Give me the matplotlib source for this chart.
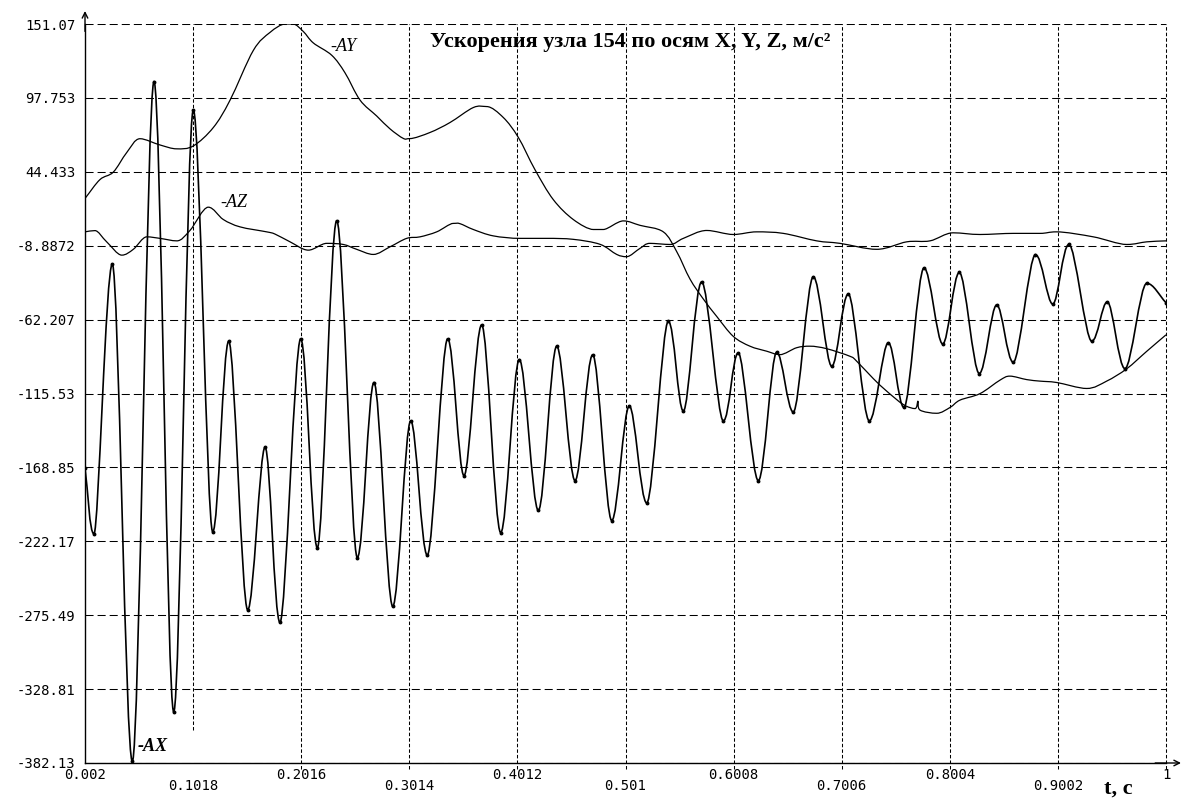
import matplotlib
matplotlib.use("Agg")
import matplotlib.pyplot as plt
import matplotlib.transforms as mtrans
from matplotlib.path import Path
from matplotlib.patches import PathPatch

plt.rcParams['lines.scale_dashes'] = False

# axis ticks
y_ticks = [151.07, 97.753, 44.433, -8.8872, -62.207, -115.53, -168.85, -222.17, -275.49, -328.81, -382.13]
y_labels = ["151.07", "97.753", "44.433", "-8.8872", "-62.207", "-115.53", "-168.85", "-222.17", "-275.49", "-328.81", "-382.13"]
x_ticks = [0.002, 0.1018, 0.2016, 0.3014, 0.4012, 0.501, 0.6008, 0.7006, 0.8004, 0.9002, 1.0]
x_labels = ["0.002", "0.1018", "0.2016", "0.3014", "0.4012", "0.501", "0.6008", "0.7006", "0.8004", "0.9002", "1"]

# AX (read from peaks / troughs)
ax_t = [0.002, 0.0103, 0.0272, 0.0457, 0.0657, 0.0839, 0.102, 0.1199, 0.1347, 0.1522,
        0.1682, 0.1820, 0.2011, 0.2165, 0.2344, 0.2534, 0.2688, 0.2861, 0.3027, 0.3180,
        0.3368, 0.3519, 0.3682, 0.3858, 0.4030, 0.4205, 0.4375, 0.4544, 0.4707, 0.4883,
        0.5045, 0.5206, 0.5405, 0.5544, 0.5713, 0.5913, 0.6051, 0.6236, 0.6406, 0.6559,
        0.6744, 0.6914, 0.7067, 0.7261, 0.7436, 0.7581, 0.7766, 0.7938, 0.8092, 0.8276,
        0.8437, 0.8590, 0.8795, 0.8954, 0.9104, 0.9314, 0.9458, 0.9621, 0.9822, 1.0]
ax_v = [-169.3, -216.8, -22.2, -381.0, 109.5, -345.3, 89.0, -215.3, -77.8, -271.7,
        -154.3, -280.7, -76.1, -226.8, 9.1, -233.9, -107.6, -269.1, -135.3, -232.2,
        -76.1, -174.8, -66.0, -215.9, -91.1, -199.9, -81.4, -178.4, -87.6, -207.2,
        -124.5, -194.5, -63.4, -128.2, -35.0, -135.3, -86.2, -178.4, -85.7, -128.9,
        -31.3, -95.9, -43.7, -135.3, -78.9, -125.6, -24.9, -79.8, -28.2, -101.1,
        -51.6, -93.0, -15.3, -51.0, -7.9, -77.8, -49.4, -97.6, -36.0, -50.0]

# AY
ay_t = [0.002, 0.0158, 0.0281, 0.0405, 0.0528, 0.0712, 0.0867, 0.102, 0.1205, 0.1359,
        0.1574, 0.1728, 0.1866, 0.1943, 0.2035, 0.2128, 0.2298, 0.2420, 0.2559, 0.2713,
        0.2836, 0.2959, 0.3020, 0.3205, 0.3390, 0.3605, 0.3729, 0.3882, 0.4020, 0.4174,
        0.4343, 0.4528, 0.4713, 0.4805, 0.4990, 0.5144, 0.5359, 0.5483, 0.5605, 0.5728,
        0.5852, 0.6005, 0.6159, 0.6313, 0.6436, 0.6590, 0.6713, 0.6867, 0.7083, 0.7144,
        0.7298, 0.7421, 0.7575, 0.7683, 0.7710, 0.7729, 0.7883, 0.8006, 0.8098, 0.8283,
        0.8467, 0.8560, 0.8714, 0.8837, 0.8991, 0.9268, 0.9452, 0.9637, 0.9822, 1.0]
ay_v = [25.2, 38.8, 44.2, 58.3, 68.3, 63.8, 61.0, 63.1, 76.4, 96.1,
        132.0, 145.0, 151.07, 151.07, 145.7, 137.4, 128.5, 115.9, 96.2, 84.7,
        75.4, 68.5, 68.4, 72.8, 80.0, 90.8, 91.5, 83.6, 69.3, 46.0,
        24.4, 10.0, 2.8, 2.8, 9.0, 5.8, 1.1, -13.2, -32.9, -47.3,
        -59.9, -74.3, -81.4, -85.0, -87.5, -82.5, -81.4, -83.2, -88.7, -92.2,
        -104.8, -113.8, -123.5, -126.4, -121.0, -127.5, -129.8, -125.6, -120.3, -115.6,
        -105.9, -103.0, -105.5, -106.6, -107.6, -111.9, -106.6, -97.7, -85.1, -73.2]

# AZ
az_t = [0.002, 0.0112, 0.0220, 0.0359, 0.0466, 0.0590, 0.0712, 0.0867, 0.0989, 0.1158,
        0.1297, 0.1451, 0.1697, 0.1774, 0.1913, 0.2082, 0.2251, 0.2405, 0.2528, 0.2682,
        0.2836, 0.2990, 0.3113, 0.3267, 0.3420, 0.3482, 0.3605, 0.3789, 0.4036, 0.4282,
        0.4528, 0.4775, 0.4929, 0.5021, 0.5144, 0.5236, 0.5421, 0.5544, 0.5760, 0.6005,
        0.6221, 0.6467, 0.6775, 0.6990, 0.7329, 0.7606, 0.7821, 0.8036, 0.8283, 0.8590,
        0.8837, 0.8991, 0.9329, 0.9637, 0.9822, 1.0]
az_v = [1.1, 2.0, -6.1, -15.7, -11.5, -2.5, -3.6, -5.4, 2.1, 18.9,
        10.0, 4.7, 1.1, -0.5, -6.1, -12.1, -7.2, -8.0, -11.5, -15.2,
        -9.7, -3.6, -2.5, 1.1, 7.2, 7.0, 2.8, -1.8, -3.6, -3.6,
        -4.3, -7.9, -15.2, -16.8, -10.8, -7.2, -8.0, -3.6, 2.1, -0.8,
        1.1, 0.0, -5.4, -7.2, -11.5, -6.1, -5.4, 0.4, -0.8, 0.0,
        0.0, 1.1, -2.5, -8.0, -6.1, -5.4]


def smooth_path(xs, ys):
    # cubic bezier path through the read points, flat tangent at local extremes
    n = len(xs)
    mx, my = [], []
    for i in range(n):
        a = max(i - 1, 0)
        b = min(i + 1, n - 1)
        dx = (xs[b] - xs[a]) / (b - a)
        dy = (ys[b] - ys[a]) / (b - a)
        if 0 < i < n - 1 and (ys[i] - ys[i - 1]) * (ys[i + 1] - ys[i]) <= 0:
            dy = 0.0
        mx.append(dx)
        my.append(dy)
    verts = [(xs[0], ys[0])]
    codes = [Path.MOVETO]
    for i in range(n - 1):
        verts += [(xs[i] + mx[i] / 3, ys[i] + my[i] / 3),
                  (xs[i + 1] - mx[i + 1] / 3, ys[i + 1] - my[i + 1] / 3),
                  (xs[i + 1], ys[i + 1])]
        codes += [Path.CURVE4] * 3
    return Path(verts, codes)


fig = plt.figure(figsize=(11.86, 8.0), dpi=100)
ax = fig.add_axes([85 / 1186, 1 - 763 / 800, 1081 / 1186, 739 / 800])

ax.set_xlim(0.002, 1.0)
ax.set_ylim(-382.13, 151.07)

# grid
for y in y_ticks:
    ax.axhline(y, color="black", lw=0.75, ls=(0, (5.8, 2.9)), zorder=1)
for i, x in enumerate(x_ticks):
    if i == 0:
        continue
    ymin = 0.045 if i == 1 else -0.008
    ax.axvline(x, ymin=ymin, ymax=1.0, color="black", lw=0.75, ls=(0, (2.5, 1.5)),
               zorder=1, clip_on=False)

for xs, ys, lw in [(ay_t, ay_v, 0.9), (az_t, az_v, 0.9), (ax_t, ax_v, 1.2)]:
    ax.add_patch(PathPatch(smooth_path(xs, ys), fill=False, edgecolor="black",
                           lw=lw, zorder=3))
ax.plot(ax_t, ax_v, ls="none", color="black", marker="o", ms=1.8, zorder=4)

ax.spines["top"].set_visible(False)
ax.spines["right"].set_visible(False)
ax.spines["left"].set_linewidth(1.0)
ax.spines["bottom"].set_linewidth(1.0)

ax.set_yticks(y_ticks)
ax.set_yticklabels(y_labels, family="DejaVu Sans Mono", fontsize=10)
ax.tick_params(axis="y", length=0, pad=7)
ax.set_xticks([])

# staggered x labels
trans = ax.get_xaxis_transform()
for i, (x, lab) in enumerate(zip(x_ticks, x_labels)):
    dy = -12 if i % 2 == 0 else -23
    t = mtrans.offset_copy(trans, fig=fig, x=0, y=dy, units="dots")
    ax.text(x, 0, lab, transform=t, ha="center", va="center",
            family="DejaVu Sans Mono", fontsize=10)

# axis arrows
ax.annotate("", xy=(0, 1 + 13 / 739), xytext=(0, 0.99), xycoords="axes fraction",
            arrowprops=dict(arrowstyle="->", lw=1.0, color="black", shrinkA=0, shrinkB=0))
ax.annotate("", xy=(1 + 15 / 1081, 0), xytext=(0.99, 0), xycoords="axes fraction",
            arrowprops=dict(arrowstyle="->", lw=1.0, color="black", shrinkA=0, shrinkB=0))

# curve labels
ax.text(0.2282, 134.5, "-AY", family="Liberation Serif", style="italic",
        fontsize=13, ha="left", va="center")
ax.text(0.1266, 22.6, "-AZ", family="Liberation Serif", style="italic",
        fontsize=13, ha="left", va="center")
ax.text(0.0509, -369.9, "-AX", family="Liberation Serif", style="italic",
        weight="bold", fontsize=13, ha="left", va="center")

fig.text(630 / 1186, 1 - 42 / 800, "Ускорения узла 154 по осям X, Y, Z, м/с²",
         family="Liberation Serif", weight="bold", fontsize=16, ha="center", va="center")
fig.text(1104 / 1186, 1 - 789 / 800, "t, c", family="Liberation Serif", weight="bold",
         fontsize=16, ha="left", va="center")

fig.savefig("out.png", dpi=100, facecolor="white")
